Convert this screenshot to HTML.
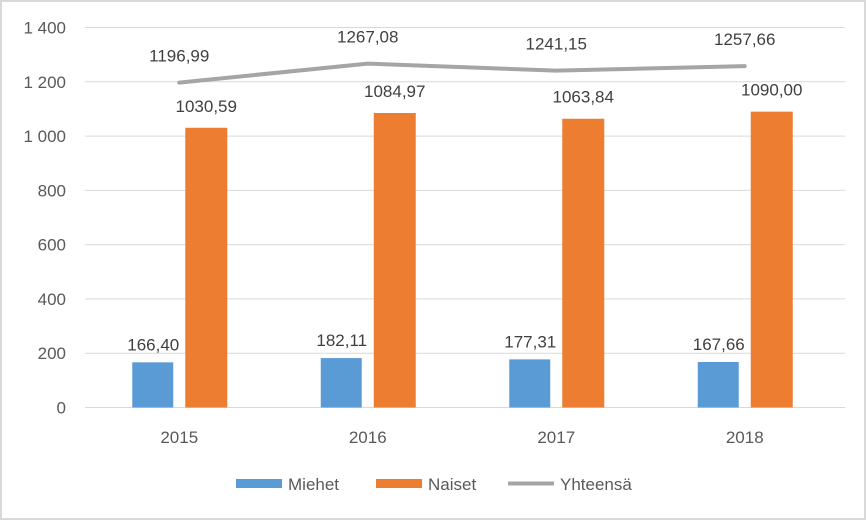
<!DOCTYPE html>
<html><head><meta charset="utf-8"><style>
body{margin:0;background:#fff}
svg{display:block;font-family:"Liberation Sans",sans-serif}
</style></head><body>
<svg id="c" width="866" height="520">
<rect x="1" y="1" width="864" height="518" fill="#fff" stroke="#d9d9d9" stroke-width="2"/>
<g id="grid"></g><g id="bars"></g><g id="lines"></g><g id="labels"></g>
<g>
<rect x="236" y="479" width="46" height="9" fill="#5b9bd5"/>
<text x="288" y="490" font-size="17" fill="#595959">Miehet</text>
<rect x="376" y="479" width="46" height="9" fill="#ed7d31"/>
<text x="428" y="490" font-size="17" fill="#595959">Naiset</text>
<line x1="508" y1="483.5" x2="554" y2="483.5" stroke="#a5a5a5" stroke-width="4"/>
<text x="560" y="490" font-size="17" fill="#595959">Yhteensä</text>
</g>
</svg>
<script>
const categories=["2015","2016","2017","2018"];
const miehet=[166.40,182.11,177.31,167.66];
const naiset=[1030.59,1084.97,1063.84,1090.00];
const yhteensa=[1196.99,1267.08,1241.15,1257.66];
const ticks=[0,200,400,600,800,1000,1200,1400];
const tickLabels=["0","200","400","600","800","1 000","1 200","1 400"];
const NS="http://www.w3.org/2000/svg";
const x0=85,cw=188.5,yb=407.5,yt=27.5,ymax=1400;
const y=v=>yb-(v/ymax)*(yb-yt);
const cx=i=>x0+cw*(i+0.5);
const fmt=v=>v.toFixed(2).replace('.',',');
function mk(p,t,a){const e=document.createElementNS(NS,t);for(const k in a)e.setAttribute(k,a[k]);document.getElementById(p).appendChild(e);return e;}
ticks.forEach((t,i)=>{
 const l=mk('grid','line',{x1:x0,x2:845,y1:y(t),y2:y(t),stroke:'#d9d9d9','stroke-width':1});
 
 
 const tx=mk('grid','text',{x:66,y:y(t)+6,'text-anchor':'end','font-size':17,fill:'#595959'});
 tx.textContent=tickLabels[i];
 
 
});
categories.forEach((c,i)=>{
 const b1=mk('bars','rect',{x:cx(i)-47,y:y(miehet[i]),width:41,height:yb-y(miehet[i]),fill:'#5b9bd5'});
 
 
 const b2=mk('bars','rect',{x:cx(i)+6,y:y(naiset[i]),width:42,height:yb-y(naiset[i]),fill:'#ed7d31'});
 
 
 const t1=mk('labels','text',{x:cx(i)-26,y:y(miehet[i])-12,'text-anchor':'middle','font-size':17,fill:'#404040'});
 t1.textContent=fmt(miehet[i]);
 
 
 const t2=mk('labels','text',{x:cx(i)+27,y:y(naiset[i])-16,'text-anchor':'middle','font-size':17,fill:'#404040'});
 t2.textContent=fmt(naiset[i]);
 
 
 const t3=mk('labels','text',{x:cx(i),y:y(yhteensa[i])-21,'text-anchor':'middle','font-size':17,fill:'#404040'});
 t3.textContent=fmt(yhteensa[i]);
 
 
 const xl=mk('labels','text',{x:cx(i),y:443,'text-anchor':'middle','font-size':17,fill:'#595959'});
 xl.textContent=c;
 
 
});
const pl=mk('lines','polyline',{points:yhteensa.map((v,i)=>cx(i)+','+y(v)).join(' '),fill:'none',stroke:'#a5a5a5','stroke-width':4,'stroke-linejoin':'round','stroke-linecap':'round'});


</script>
</body></html>
